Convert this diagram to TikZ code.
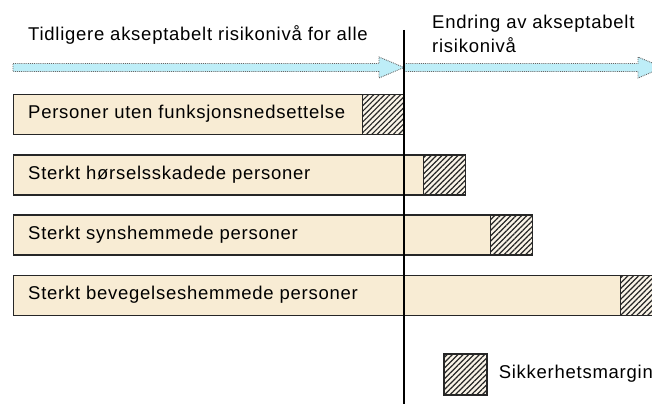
\documentclass[tikz,border=0pt]{standalone}
\usepackage{fontspec}
\setmainfont{Liberation Sans}[LetterSpace=4]
\usetikzlibrary{positioning,patterns.meta}

\definecolor{barfill}{RGB}{248,236,212}
\definecolor{arrowfill}{RGB}{190,238,248}
\definecolor{hatchbg}{RGB}{250,244,232}

\begin{document}
\begin{tikzpicture}[
        x=1pt, y=-1pt,
        bar/.style={rectangle, draw=black!85, line width=1.2pt, fill=barfill,
            minimum height=40pt, inner sep=0pt, anchor=west},
        margin/.style={rectangle, draw=black!85, line width=1.2pt,
            minimum width=42pt, minimum height=40pt, inner sep=0pt,
            preaction={fill=hatchbg},
            pattern={Lines[angle=45, distance=3.8pt, line width=1.2pt]},
            pattern color=black!85},
        bartext/.style={inner sep=0pt, anchor=west, text height=12.5pt, text depth=4.5pt,
            font=\fontsize{18.5}{22}\selectfont},
        headtext/.style={inner sep=0pt, align=left, font=\fontsize{18.5}{24}\selectfont},
        timeline/.style={draw=black!60, densely dotted, line width=0.9pt, fill=arrowfill}
    ]
    \useasboundingbox (0,0) rectangle (652,404);
    \clip (0,0) rectangle (652,404);

    % risk level arrows
    \draw[timeline] (13,63.5) -- (379,63.5) -- (379,57) -- (404,67.5) -- (379,78)
        -- (379,71.5) -- (13,71.5) -- cycle;
    \draw[timeline] (404,63.5) -- (638,63.5) -- (638,57) -- (663,67.5) -- (638,78)
        -- (638,71.5) -- (404,71.5) -- cycle;
    \node[headtext, anchor=base west] (before) at (28,40.7) {Tidligere akseptabelt risikonivå for alle};
    \node[headtext, anchor=north west] (change) at (432,15) {Endring av akseptabelt\\risikonivå};

    % groups
    \node[bar, minimum width=391pt] (none) at (13,114.5) {};
    \node[bar, minimum width=452pt] (hearing) at (13,175) {};
    \node[bar, minimum width=519pt] (sight) at (13,235) {};
    \node[bar, minimum width=649pt] (mobility) at (13,295.5) {};

    \foreach \grp in {none, hearing, sight, mobility}
        \node[margin, anchor=east] (\grp-m) at (\grp.east) {};

    \node[bartext, right=15pt of none.west] (none-t) {Personer uten funksjonsnedsettelse};
    \node[bartext, right=15pt of hearing.west] (hearing-t) {Sterkt hørselsskadede personer};
    \node[bartext, right=15pt of sight.west] (sight-t) {Sterkt synshemmede personer};
    \node[bartext, right=15pt of mobility.west] (mobility-t) {Sterkt bevegelseshemmede personer};

    % today
    \coordinate (top) at (404,30);
    \coordinate (bottom) at (404,404);
    \draw[line width=1.4pt] (top) -- (bottom);

    % legend
    \node[margin, minimum width=43pt, minimum height=41pt] (key) at (465.5,374.5) {};
    \node[bartext, right=11pt of key] (key-t) {Sikkerhetsmargin};
\end{tikzpicture}
\end{document}
